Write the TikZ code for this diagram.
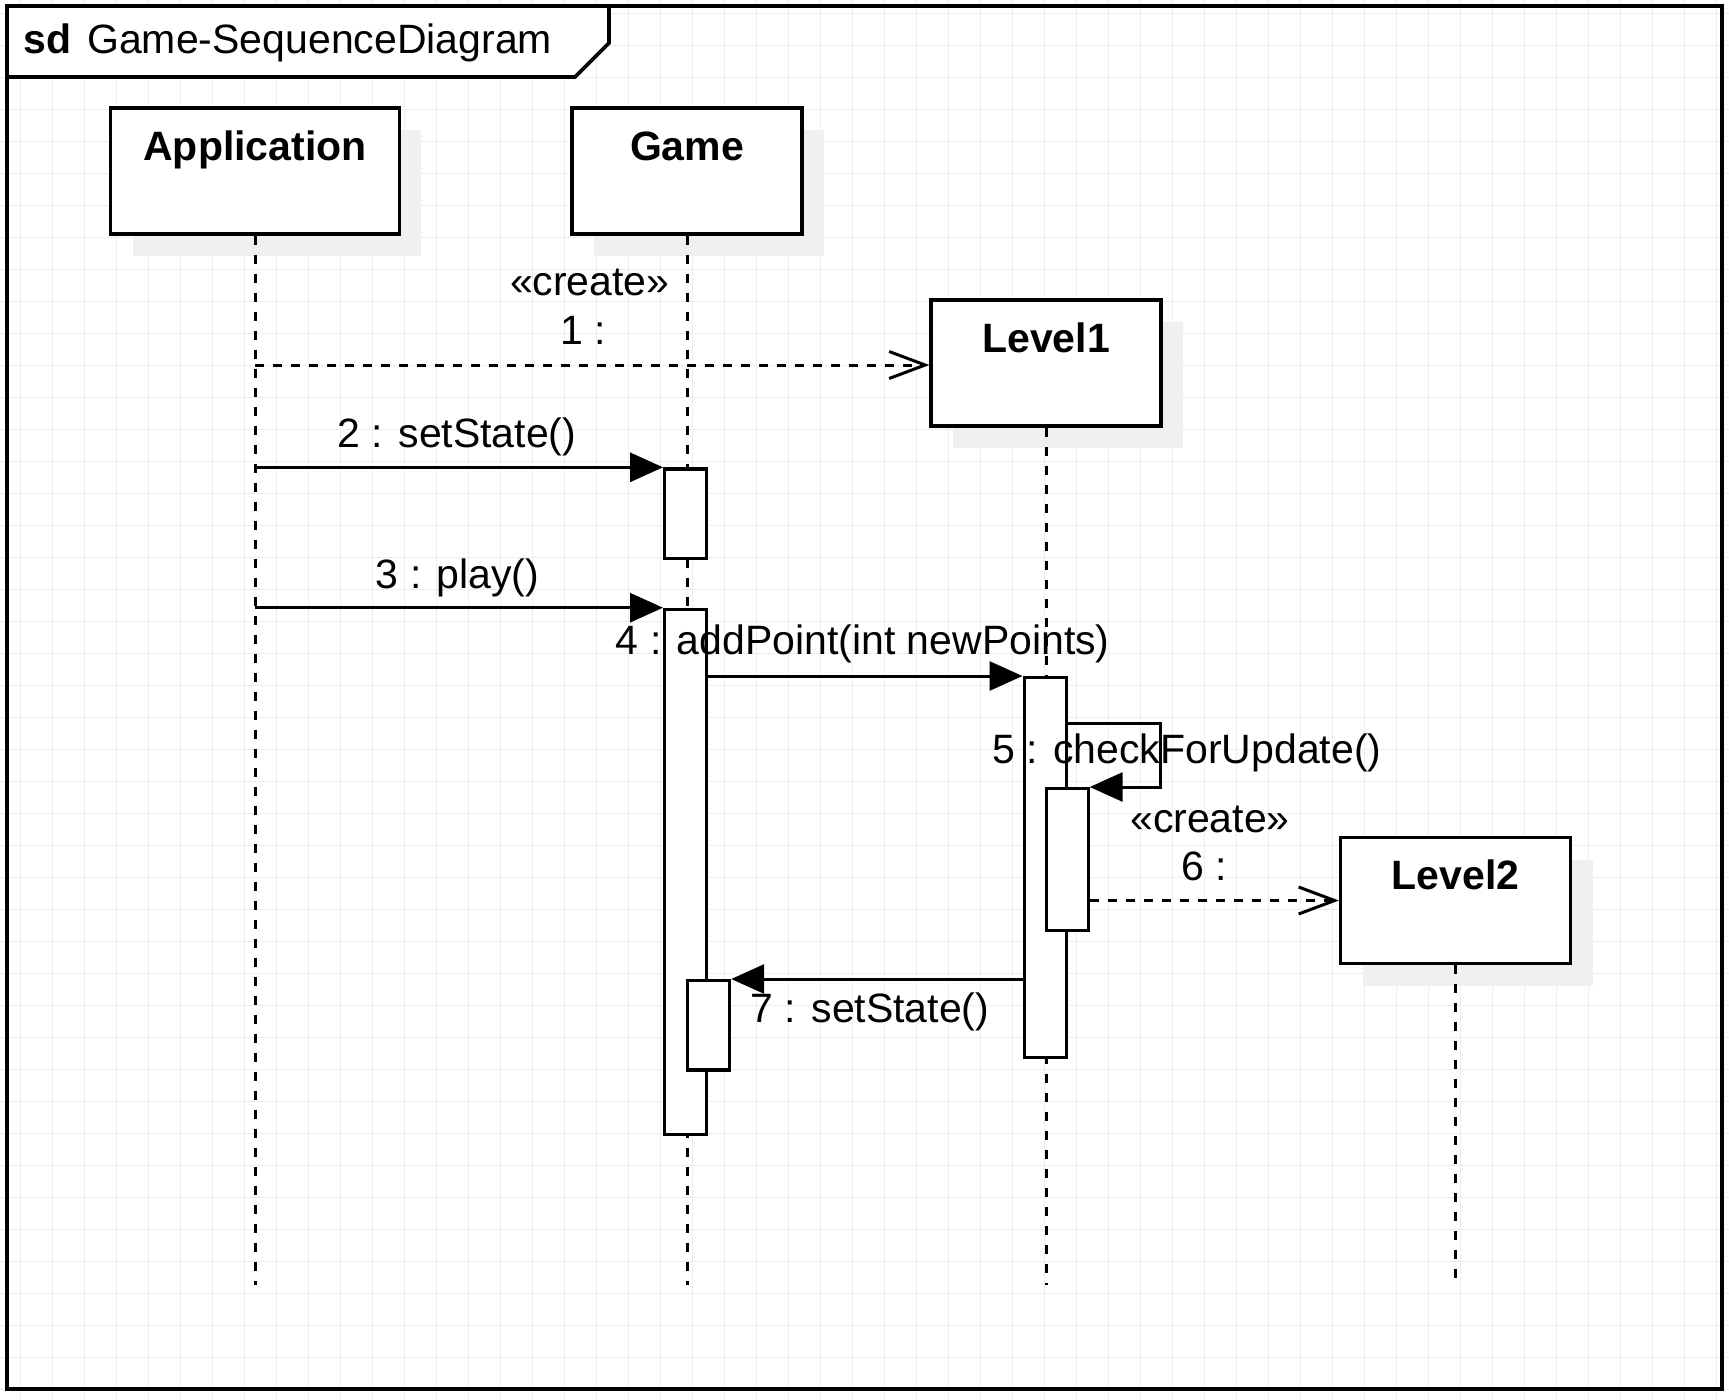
\documentclass[tikz,border=0pt]{standalone}
\usepackage{fontspec}
\setmainfont{Liberation Sans}
\usetikzlibrary{arrows.meta,shadows}

\begin{document}
\begin{tikzpicture}[x=0.5pt, y=-0.5pt, font=\fontsize{20.5}{24}\selectfont,
  gridline/.style={draw=black!7, line width=0.5pt},
  lifebox/.style={draw, fill=white, line width=1.6pt, minimum width=115pt, minimum height=63pt, inner sep=0pt,
    drop shadow={shadow xshift=11pt, shadow yshift=-11pt, fill=black!6, opacity=1},
    label={[anchor=base, yshift=-27pt]north:\textbf{#1}}},
  actbox/.style={draw, fill=white, line width=1.6pt, minimum width=21pt, inner sep=0pt, anchor=north west},
  lifeline/.style={line width=1.5pt, dash pattern=on 4.5pt off 5pt},
  call/.style={line width=1.5pt, -{Triangle[length=16.5pt, width=14.5pt]}},
  create/.style={line width=1.5pt, dash pattern=on 4.5pt off 4.5pt, -{Straight Barb[length=18pt, width=13.5pt]}},
  msgtext/.style={anchor=base, inner sep=0pt}]
  \useasboundingbox (0,0) rectangle (1729,1399);

  % background grid
  \foreach \gx in {0,...,53} \draw[gridline] ({20.8+32*\gx},0) -- ({20.8+32*\gx},1399);
  \foreach \gy in {0,...,43} \draw[gridline] (0,{13.6+32*\gy}) -- (1729,{13.6+32*\gy});

  % frame and its tab
  \draw[line width=1.8pt] (7,6) rectangle (1722,1389);
  \draw[line width=1.8pt, fill=white] (7,6) -- (609,6) -- (609,43) -- (575,77) -- (7,77) -- cycle;
  \node[anchor=base west, inner sep=0pt] (title) at (23,53.3) {\textbf{sd}\hspace{8pt}Game-SequenceDiagram};

  % lifelines
  \node[lifebox=Application, minimum width=144.25pt] (app) at (255,171) {};
  \node[lifebox=Game] (game) at (687,171) {};
  \node[lifebox=Level1] (lvlone) at (1046,363) {};
  \node[lifebox=Level2] (lvltwo) at (1455.5,900.5) {};
  \coordinate (lifeend) at (0,1285);
  \draw[lifeline] (app.south) -- (app.south |- lifeend);
  \draw[lifeline] (game.south) -- (game.south |- lifeend);
  \draw[lifeline] (lvlone.south) -- (lvlone.south |- lifeend);
  \draw[lifeline] (lvltwo.south) -- (lvltwo.south |- lifeend);

  % activations
  \node[actbox, minimum height=44.7pt] (gact1) at (663,467.3) {};
  \node[actbox, minimum height=262.5pt] (gact2) at (663,607.7) {};
  \node[actbox, minimum height=44.65pt] (gnest) at (686,979) {};
  \node[actbox, minimum height=190pt] (lact) at (1022.5,676) {};
  \node[actbox, minimum height=70.8pt] (lnest) at (1044.5,787) {};

  % messages
  \coordinate (m1a) at (255,365);
  \coordinate (m2a) at (255,467.3);
  \coordinate (m3a) at (255,607.7);
  \coordinate (selfr) at (1160,723);
  \draw[create] (m1a) -- (m1a -| lvlone.west);
  \draw[call] (m2a) -- (gact1.north west);
  \draw[call] (m3a) -- (gact2.north west);
  \draw[call] (gact2.east |- lact.north) -- (lact.north west);
  \draw[call] (lact.east |- selfr) -- (selfr) |- (lnest.north east);
  \draw[create] (lnest.east |- lvltwo.west) -- (lvltwo.west);
  \draw[call] (lact.west |- gnest.north east) -- (gnest.north east);

  % message labels
  \node[msgtext] (lblonea) at (589.8,295) {«create»};
  \node[msgtext] (lbloneb) at (583,344) {1 :};
  \node[msgtext] (lbltwo) at (457,447) {2 : setState()};
  \node[msgtext] (lblthree) at (457.5,588) {3 : play()};
  \node[msgtext] (lblfour) at (862.8,654) {4 : addPoint(int newPoints)};
  \node[msgtext] (lblfive) at (1187,763.3) {5 : checkForUpdate()};
  \node[msgtext] (lblsixa) at (1210,832.7) {«create»};
  \node[msgtext] (lblsixb) at (1204,880) {6 :};
  \node[msgtext] (lblseven) at (870,1022.7) {7 : setState()};
\end{tikzpicture}
\end{document}
